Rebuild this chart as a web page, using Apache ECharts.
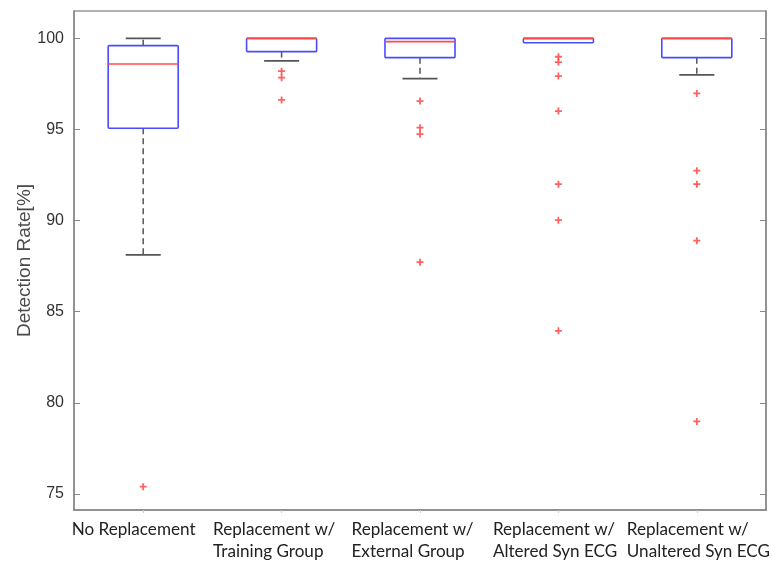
<!DOCTYPE html>
<html>
<head>
<meta charset="utf-8">
<script src="https://cdn.jsdelivr.net/npm/echarts@6/dist/echarts.min.js"></script>
<style>html,body{margin:0;padding:0;background:#fff}#c{width:772px;height:564px}</style>
</head>
<body>
<div id="c"></div>
<script>
const categories = ['No Replacement', 'Replacement w/\nTraining Group', 'Replacement w/\nExternal Group', 'Replacement w/\nAltered Syn ECG', 'Replacement w/\nUnaltered Syn ECG'];
// [lower whisker, Q1, median, Q3, upper whisker]
const boxLow    = [88.12, 98.76, 97.79, 99.76, 97.99];
const boxQ1     = [95.07, 99.27, 98.94, 99.76, 98.94];
const boxMedian = [98.59, 100.0, 99.82, 100.0, 100.0];
const boxQ3     = [99.6, 100.0, 100.0, 100.0, 100.0];
const boxHigh   = [100.0, 100.0, 100.0, 100.0, 100.0];
const outliers0 = [75.4];
const outliers1 = [98.2, 97.84, 96.62];
const outliers2 = [96.56, 95.1, 94.74, 87.72];
const outliers3 = [98.99, 98.7, 97.93, 96.01, 92.0, 90.02, 83.95];
const outliers4 = [96.98, 92.74, 92.0, 88.9, 78.98];
const yTicks = [75, 80, 85, 90, 95, 100];

const allOutliers = [outliers0, outliers1, outliers2, outliers3, outliers4];
const boxData = categories.map((c, i) => [i, boxLow[i], boxQ1[i], boxMedian[i], boxQ3[i], boxHigh[i]]);
const outlierData = [];
allOutliers.forEach((arr, i) => arr.forEach(v => outlierData.push([i, v])));

const BLUE = '#4a4aff', RED = '#ff4a4a', WHISK = '#555';
// label block widths (layout only): lines are left-aligned inside a box centred on the category
const labelBoxW = [143, 137, 137, 131, 140];
const labelFont = { fontFamily: 'Lato', fontSize: 17.1, color: '#222', lineHeight: 22.5, align: 'left' };
const rich = {};
labelBoxW.forEach((w, i) => { rich['r' + i] = Object.assign({ width: w }, labelFont); });

function renderBox(params, api) {
  const i = api.value(0);
  const bw = api.size([1, 0])[0] * 0.506;
  const capW = bw * 0.5;
  const pLow = api.coord([i, api.value(1)]);
  const pQ1 = api.coord([i, api.value(2)]);
  const pMed = api.coord([i, api.value(3)]);
  const pQ3 = api.coord([i, api.value(4)]);
  const pHigh = api.coord([i, api.value(5)]);
  const x = pQ1[0];
  const children = [];
  const wStyle = { stroke: WHISK, lineWidth: 1.5, lineDash: [6, 4] };
  const cStyle = { stroke: WHISK, lineWidth: 1.8 };
  if (pHigh[1] < pQ3[1] - 0.5) {
    children.push({ type: 'line', shape: { x1: x, y1: pQ3[1], x2: x, y2: pHigh[1] }, style: wStyle });
    children.push({ type: 'line', shape: { x1: x - capW / 2, y1: pHigh[1], x2: x + capW / 2, y2: pHigh[1] }, style: cStyle });
  }
  if (pLow[1] > pQ1[1] + 0.5) {
    children.push({ type: 'line', shape: { x1: x, y1: pQ1[1], x2: x, y2: pLow[1] }, style: wStyle });
    children.push({ type: 'line', shape: { x1: x - capW / 2, y1: pLow[1], x2: x + capW / 2, y2: pLow[1] }, style: cStyle });
  }
  children.push({ type: 'rect', shape: { x: x - bw / 2, y: pQ3[1], width: bw, height: pQ1[1] - pQ3[1], r: 1 }, style: { fill: 'none', stroke: BLUE, lineWidth: 1.6 } });
  children.push({ type: 'line', shape: { x1: x - bw / 2, y1: pMed[1], x2: x + bw / 2, y2: pMed[1] }, style: { stroke: RED, lineWidth: 1.6 } });
  return { type: 'group', children };
}

const chart = echarts.init(document.getElementById('c'), null, { renderer: 'canvas' });
chart.setOption({
  animation: false,
  grid: { left: 74, right: 6, top: 11, bottom: 54, show: true, borderColor: '#999', borderWidth: 1.5, backgroundColor: '#fff', outerBoundsMode: 'none', containLabel: false },
  xAxis: {
    type: 'category',
    data: categories,
    axisLine: { show: true, lineStyle: { color: '#888', width: 1.5 } },
    axisTick: { show: true, alignWithLabel: true, length: 3, lineStyle: { color: '#ccc' } },
    axisLabel: {
      color: '#222', fontFamily: 'Lato', fontSize: 17.1, lineHeight: 22.5, margin: 8, interval: 0,
      hideOverlap: false,
      formatter: (v, idx) => v.split('\n').map(l => '{r' + idx + '|' + l + '}').join('\n'),
      rich: rich
    },
    splitLine: { show: false }
  },
  yAxis: [{
    type: 'value',
    min: 74.12,
    max: 101.5,
    name: 'Detection Rate[%]',
    nameLocation: 'middle',
    nameGap: 40,
    nameMoveOverlap: false,
    nameTextStyle: { color: '#4a4a4a', fontFamily: 'Liberation Sans', fontSize: 19 },
    axisLine: { show: true, lineStyle: { color: '#888', width: 1.5 } },
    axisTick: { show: true, inside: true, length: 6, customValues: yTicks, lineStyle: { color: '#888' } },
    axisLabel: { color: '#333', fontFamily: 'Liberation Sans', fontSize: 16, margin: 10, customValues: yTicks },
    splitLine: { show: false }
  }, {
    type: 'value',
    position: 'right',
    min: 74.12,
    max: 101.5,
    axisLine: { show: true, lineStyle: { color: '#888', width: 1.5 } },
    axisTick: { show: true, inside: true, length: 6, customValues: yTicks, lineStyle: { color: '#888' } },
    axisLabel: { show: false },
    splitLine: { show: false }
  }],
  series: [{
    type: 'custom',
    renderItem: renderBox,
    data: boxData,
    encode: { x: 0, y: [1, 2, 3, 4, 5] },
    clip: false
  }, {
    type: 'scatter',
    data: outlierData,
    symbol: 'path://M-0.9,-3.5H0.9V-0.9H3.5V0.9H0.9V3.5H-0.9V0.9H-3.5V-0.9H-0.9Z',
    symbolSize: 7,
    itemStyle: { color: '#ff3a3a' }
  }]
});
</script>
</body>
</html>
